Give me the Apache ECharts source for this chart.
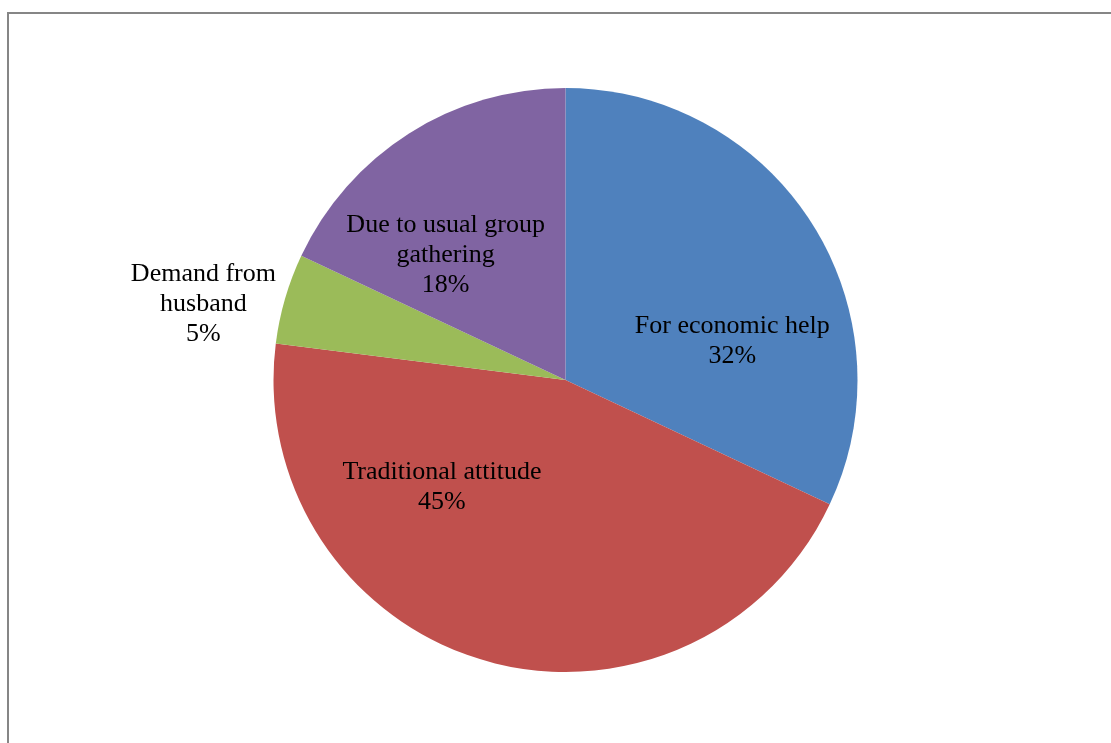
<!DOCTYPE html>
<html>
<head>
<meta charset="utf-8">
<script src="https://cdn.jsdelivr.net/npm/echarts@6/dist/echarts.min.js"></script>
<style>
html,body{margin:0;padding:0;background:#fff;}
#chart{width:1111px;height:743px;}
</style>
</head>
<body>
<div id="chart"></div>
<script>
const categories = ['For economic help', 'Traditional attitude', 'Demand from husband', 'Due to usual group gathering'];
const labelLines = ['For economic help', 'Traditional attitude', 'Demand from\nhusband', 'Due to usual group\ngathering'];
const values = [32, 45, 5, 18];
const colors = ['#4F81BD', '#C0504D', '#9BBB59', '#8064A2'];
// label shifts relative to default inside position (style, not data)
const labelShift = [[41, 41], [-82, -36], [-219, -34], [-40, 1]];

const chart = echarts.init(document.getElementById('chart'), null, {renderer: 'canvas'});
chart.setOption({
  animation: false,
  backgroundColor: '#ffffff',
  graphic: [
    {type: 'line', shape: {x1: 8, y1: 13, x2: 1111, y2: 13}, style: {stroke: '#868686', lineWidth: 2}},
    {type: 'line', shape: {x1: 8, y1: 12, x2: 8, y2: 743}, style: {stroke: '#868686', lineWidth: 2}}
  ],
  series: [{
    type: 'pie',
    center: [565.5, 380],
    radius: 292,
    startAngle: 90,
    clockwise: true,
    avoidLabelOverlap: false,
    silent: true,
    itemStyle: {borderWidth: 0},
    label: {
      show: true,
      position: 'inside',
      fontFamily: '"Liberation Serif", "Times New Roman", serif',
      fontSize: 26,
      lineHeight: 30,
      color: '#000',
      align: 'center',
      formatter: p => labelLines[p.dataIndex] + '\n' + p.value + '%'
    },
    labelLine: {show: false},
    labelLayout: p => ({dx: labelShift[p.dataIndex][0], dy: labelShift[p.dataIndex][1]}),
    data: categories.map((c, i) => ({name: c, value: values[i], itemStyle: {color: colors[i]}}))
  }]
});
</script>
</body>
</html>
